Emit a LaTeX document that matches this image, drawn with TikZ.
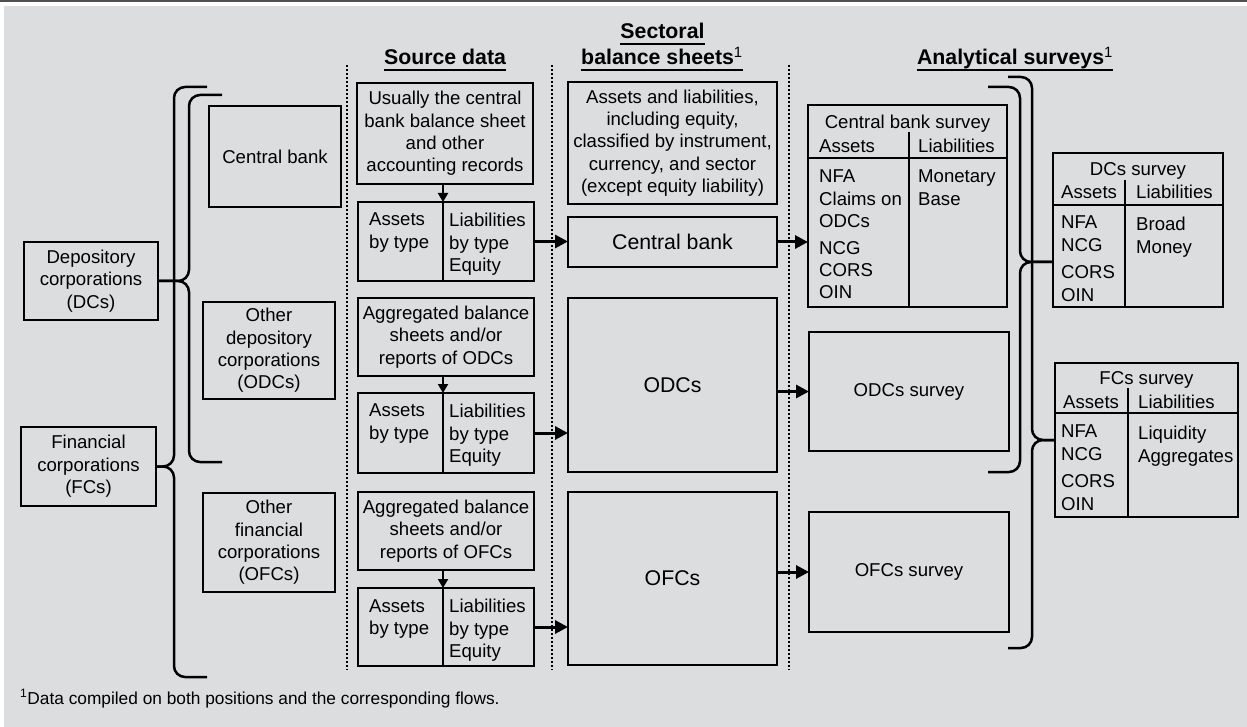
\documentclass[tikz,border=0pt]{standalone}
\usepackage{fontspec}
\setmainfont{Liberation Sans}
\usetikzlibrary{arrows.meta, positioning}

\definecolor{panelgray}{RGB}{220,221,223}
\definecolor{bargray}{RGB}{80,80,80}

\tikzset{
    box/.style={draw, line width=2.5pt, inner sep=2pt, outer sep=0pt, align=center, font=\fontsize{18.6}{22.4}\selectfont},
    txt/.style={inner sep=0pt, align=left, font=\fontsize{18.6}{22.4}\selectfont},
    bigtxt/.style={font=\fontsize{21.3}{25}\selectfont},
    head/.style={inner sep=0pt, anchor=base, font=\fontsize{21.3}{25}\selectfont\bfseries},
    uline/.style={line width=2pt},
    sep/.style={line width=2pt, dash pattern=on 2pt off 2pt},
    brace/.style={line width=2.5pt, rounded corners=11pt},
    arr/.style={line width=3pt, -{Triangle[length=13pt,width=13pt]}},
    darr/.style={line width=2pt, -{Triangle[length=9pt,width=10pt]}},
    rule/.style={line width=2.5pt},
}

\begin{document}
\begin{tikzpicture}[x=1pt, y=-1pt]
    \useasboundingbox (0,0) rectangle (1247,727);
    \fill[white] (0,0) rectangle (1247,727); % Page
    \fill[bargray] (0,0) rectangle (1247,2); % Top bar
    \fill[panelgray] (4,6) rectangle (1247,727); % Panel

    % Sectors
    \node[box, minimum width=134pt, minimum height=78pt] (dcs) at (91,281) {Depository\\corporations\\(DCs)};
    \node[box, minimum width=135pt, minimum height=79pt] (fcs) at (88.5,466.5) {Financial\\corporations\\(FCs)};
    \node[box, minimum width=132pt, minimum height=101pt] (cbank) at (275,156.5) {Central bank};
    \node[box, minimum width=132pt, minimum height=97pt] (odcs) at (269,350.5) {Other\\depository\\corporations\\(ODCs)};
    \node[box, minimum width=132pt, minimum height=99pt] (ofcs) at (269,542.5) {Other\\financial\\corporations\\(OFCs)};

    \coordinate (dcTop) at (222,95);
    \coordinate (dcBot) at (222,462);
    \coordinate (fcTop) at (207,87);
    \coordinate (fcBot) at (207,677);
    \draw[brace] (dcTop) -| ([xshift=31pt]dcs.east) -- (dcs.east); % DCs brace
    \draw[brace] (dcBot) -| ([xshift=31pt]dcs.east) -- (dcs.east);
    \draw[brace] (fcTop) -| ([xshift=18pt]fcs.east) -- (fcs.east); % FCs brace
    \draw[brace] (fcBot) -| ([xshift=18pt]fcs.east) -- (fcs.east);

    % Column separators
    \draw[sep] (347,65) -- (347,670);
    \draw[sep] (552,65) -- (552,670);
    \draw[sep] (789,65) -- (789,670);

    % Headings
    \node[head] (hsrc) at (445,65) {Source data};
    \draw[uline] ([yshift=-5pt]hsrc.base west) -- ([yshift=-5pt]hsrc.base east);
    \node[head] (hsecA) at (662.5,39) {Sectoral};
    \draw[uline] ([yshift=-5pt]hsecA.base west) -- ([yshift=-5pt]hsecA.base east);
    \node[head] (hsecB) at (662,65) {balance sheets\textsuperscript{\mdseries 1}};
    \draw[uline] ([yshift=-5pt]hsecB.base west) -- ([yshift=-5pt]hsecB.base east);
    \node[head] (hana) at (1015,65) {Analytical surveys\textsuperscript{\mdseries 1}};
    \draw[uline] ([yshift=-5pt]hana.base west) -- ([yshift=-5pt]hana.base east);

    % Source data
    \node[box, minimum width=176pt, minimum height=101pt] (srcA) at (445,133.5) {Usually the central\\bank balance sheet\\and other\\accounting records};
    \node[box, minimum width=85pt, minimum height=79pt, anchor=north west] (astA) at (358,202) {};
    \node[box, minimum width=91pt, minimum height=79pt, anchor=north west] (liaA) at (astA.north east) {};
    \node[txt, below right=11pt and 11pt of astA.north west] {Assets\\by type};
    \node[txt, below right=11pt and 6pt of liaA.north west] {Liabilities\\by type\\Equity};
    \draw[darr] (srcA.south -| astA.east) -- (astA.north east);

    \node[box, minimum width=176pt, minimum height=78pt] (srcB) at (446,337) {Aggregated balance\\sheets and/or\\reports of ODCs};
    \node[box, minimum width=85pt, minimum height=80pt, anchor=north west] (astB) at (358,393) {};
    \node[box, minimum width=91pt, minimum height=80pt, anchor=north west] (liaB) at (astB.north east) {};
    \node[txt, below right=11pt and 11pt of astB.north west] {Assets\\by type};
    \node[txt, below right=11pt and 6pt of liaB.north west] {Liabilities\\by type\\Equity};
    \draw[darr] (srcB.south -| astB.east) -- (astB.north east);

    \node[box, minimum width=176pt, minimum height=78pt] (srcC) at (446,531) {Aggregated balance\\sheets and/or\\reports of OFCs};
    \node[box, minimum width=85pt, minimum height=78pt, anchor=north west] (astC) at (358,588) {};
    \node[box, minimum width=91pt, minimum height=78pt, anchor=north west] (liaC) at (astC.north east) {};
    \node[txt, below right=11pt and 11pt of astC.north west] {Assets\\by type};
    \node[txt, below right=11pt and 6pt of liaC.north west] {Liabilities\\by type\\Equity};
    \draw[darr] (srcC.south -| astC.east) -- (astC.north east);

    % Sectoral balance sheets
    \node[box, minimum width=209pt, minimum height=122pt] (sdesc) at (672.5,143) {Assets and liabilities,\\including equity,\\classified by instrument,\\currency, and sector\\(except equity liability)};
    \node[box, bigtxt, minimum width=209pt, minimum height=50pt] (scb) at (672.5,242) {Central bank};
    \node[box, bigtxt, minimum width=209pt, minimum height=174pt] (sodcs) at (672.5,385) {ODCs};
    \node[box, bigtxt, minimum width=209pt, minimum height=173pt] (sofcs) at (672.5,578.5) {OFCs};

    \draw[arr] (liaA.east) -- (liaA.east -| scb.west);
    \draw[arr] (liaB.east) -- (liaB.east -| sodcs.west);
    \draw[arr] (liaC.east) -- (liaC.east -| sofcs.west);

    % Analytical surveys
    \node[box, minimum width=199pt, minimum height=202pt, anchor=north west] (cbsv) at (808,105) {};
    \node[txt, anchor=base] at ([shift={(0,24)}]cbsv.north) {Central bank survey};
    \node[txt, anchor=base west] at ([shift={(11,48)}]cbsv.north west) {Assets};
    \node[txt, anchor=base west] at ([shift={(110,48)}]cbsv.north west) {Liabilities};
    \draw[rule] ([shift={(0,53)}]cbsv.north west) -- ([shift={(0,53)}]cbsv.north east);
    \draw[rule] ([shift={(101,27)}]cbsv.north west) -- ([xshift=101pt]cbsv.south west);
    \node[txt, anchor=north west] at ([shift={(11,65)}]cbsv.north west) {NFA\\Claims on\\ODCs\\[4pt]NCG\\CORS\\OIN};
    \node[txt, anchor=north west] at ([shift={(110,65)}]cbsv.north west) {Monetary\\Base};

    \node[box, minimum width=200pt, minimum height=119pt] (odcsv) at (909,391.5) {ODCs survey};
    \node[box, minimum width=200pt, minimum height=120pt] (ofcsv) at (909,572) {OFCs survey};

    \node[box, minimum width=170pt, minimum height=154pt, anchor=north west] (dcsv) at (1053,153) {};
    \node[txt, anchor=base] at ([shift={(0,23)}]dcsv.north) {DCs survey};
    \node[txt, anchor=base west] at ([shift={(8,46)}]dcsv.north west) {Assets};
    \node[txt, anchor=base west] at ([shift={(83,46)}]dcsv.north west) {Liabilities};
    \draw[rule] ([shift={(0,52)}]dcsv.north west) -- ([shift={(0,52)}]dcsv.north east);
    \draw[rule] ([shift={(72,27)}]dcsv.north west) -- ([xshift=72pt]dcsv.south west);
    \node[txt, anchor=north west] at ([shift={(8,63)}]dcsv.north west) {NFA\\NCG\\[5pt]CORS\\OIN};
    \node[txt, anchor=north west] at ([shift={(83,64)}]dcsv.north west) {Broad\\Money};

    \node[box, minimum width=183pt, minimum height=154pt, anchor=north west] (fcsv) at (1055,363) {};
    \node[txt, anchor=base] at ([shift={(0,21)}]fcsv.north) {FCs survey};
    \node[txt, anchor=base west] at ([shift={(8,45)}]fcsv.north west) {Assets};
    \node[txt, anchor=base west] at ([shift={(83,45)}]fcsv.north west) {Liabilities};
    \draw[rule] ([shift={(0,50)}]fcsv.north west) -- ([shift={(0,50)}]fcsv.north east);
    \draw[rule] ([shift={(73,25)}]fcsv.north west) -- ([xshift=73pt]fcsv.south west);
    \node[txt, anchor=north west] at ([shift={(6,62)}]fcsv.north west) {NFA\\NCG\\[5pt]CORS\\OIN};
    \node[txt, anchor=north west] at ([shift={(83,63)}]fcsv.north west) {Liquidity\\Aggregates};

    \draw[arr] (scb.east) -- (scb.east -| cbsv.west);
    \draw[arr] (sodcs.east |- odcsv.west) -- (odcsv.west);
    \draw[arr] (sofcs.east |- ofcsv.west) -- (ofcsv.west);

    \coordinate (rdTop) at (988,87);
    \coordinate (rdBot) at (988,472);
    \coordinate (rfTop) at (1008,77);
    \coordinate (rfBot) at (1008,648);
    \draw[brace] (rdTop) -| ([shift={(-33,32)}]dcsv.west) -- ([shift={(0,32)}]dcsv.west); % DCs survey brace
    \draw[brace] (rdBot) -| ([shift={(-33,32)}]dcsv.west) -- ([shift={(0,32)}]dcsv.west);
    \draw[brace] (rfTop) -| ([xshift=-23pt]fcsv.west) -- (fcsv.west); % FCs survey brace
    \draw[brace] (rfBot) -| ([xshift=-23pt]fcsv.west) -- (fcsv.west);

    % Footnote
    \node[anchor=base west, inner sep=0pt, font=\fontsize{17.3}{20}\selectfont] (fnote) at (20,704) {\textsuperscript{1}Data compiled on both positions and the corresponding flows.};
\end{tikzpicture}
\end{document}
